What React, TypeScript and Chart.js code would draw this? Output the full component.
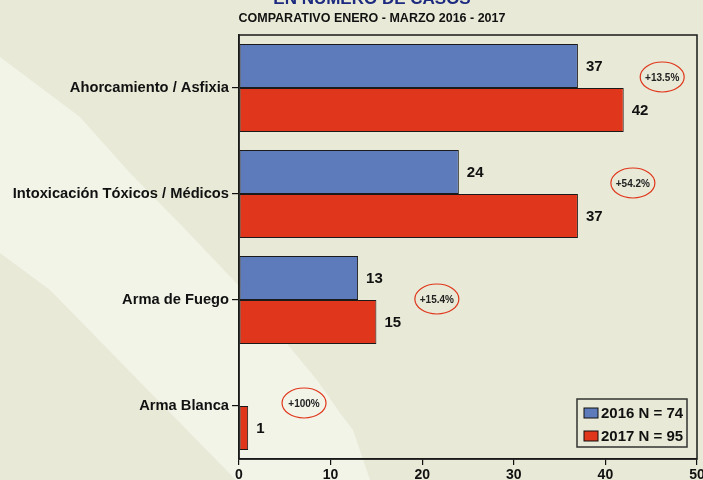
import React, { useEffect, useRef } from "react";
import { Chart, registerables } from "chart.js";

Chart.register(...registerables);

const categories = [
  "Ahorcamiento / Asfixia",
  "Intoxicación Tóxicos / Médicos",
  "Arma de Fuego",
  "Arma Blanca",
];
const values2016 = [37, 24, 13, 0];
const values2017 = [42, 37, 15, 1];
const legendLabels = ["2016 N = 74", "2017 N = 95"];
const changeLabels = ["+13.5%", "+54.2%", "+15.4%", "+100%"];
const xTicks = [0, 10, 20, 30, 40, 50];
const titleText = "EN NÚMERO DE CASOS";
const subtitleText = "COMPARATIVO ENERO - MARZO 2016 - 2017";

const BLUE = "#5d7bba";
const RED = "#e0361b";
const FONT = "'Liberation Sans', Arial, sans-serif";

// ellipse placement (value along x axis, pixel offset from category centre)
const changePlacement = [
  { x: 46.2, dy: -11 },
  { x: 43.0, dy: -11 },
  { x: 21.6, dy: -1 },
  { x: 7.1, dy: -3 },
];

const backgroundPlugin = {
  id: "bgPlugin",
  beforeDraw(chart: any) {
    const ctx = chart.ctx;
    const w = chart.width;
    const h = chart.height;
    ctx.save();
    ctx.fillStyle = "#e8e9d6";
    ctx.fillRect(0, 0, w, h);
    const upper = [
      [0, 57], [80, 117], [130, 173], [183, 227], [240, 287],
      [317, 380], [340, 413], [353, 430], [370, 480],
    ];
    const lower = [[236, 480], [233, 477], [140, 382], [50, 290], [0, 253]];
    ctx.beginPath();
    upper.forEach((p, i) => (i === 0 ? ctx.moveTo(p[0], p[1]) : ctx.lineTo(p[0], p[1])));
    lower.forEach((p) => ctx.lineTo(p[0], p[1]));
    ctx.closePath();
    ctx.fillStyle = "#f3f4e8";
    ctx.fill();

    // titles
    ctx.textAlign = "center";
    ctx.textBaseline = "alphabetic";
    ctx.fillStyle = "#1c2a80";
    ctx.font = `bold 17px ${FONT}`;
    ctx.fillText(titleText, 372, 4);
    ctx.fillStyle = "#111";
    ctx.font = `bold 12.5px ${FONT}`;
    ctx.fillText(subtitleText, 372, 22);
    ctx.restore();
  },
};

const overlayPlugin = {
  id: "overlayPlugin",
  afterDatasetsDraw(chart: any) {
    const ctx = chart.ctx;
    const area = chart.chartArea;
    ctx.save();
    // value labels
    ctx.font = `bold 15px ${FONT}`;
    ctx.fillStyle = "#111";
    ctx.textAlign = "left";
    ctx.textBaseline = "middle";
    chart.data.datasets.forEach((ds: any, di: number) => {
      const meta = chart.getDatasetMeta(di);
      meta.data.forEach((el: any, i: number) => {
        const v = ds.data[i];
        if (!v) return;
        ctx.fillText(String(v), el.x + 8, el.y + 1);
      });
    });

    // change ellipses
    const xs = chart.scales.x;
    const ys = chart.scales.y;
    changeLabels.forEach((t, i) => {
      const cx = xs.getPixelForValue(changePlacement[i].x);
      const cy = ys.getPixelForValue(i) + changePlacement[i].dy;
      ctx.beginPath();
      ctx.ellipse(cx, cy, 22, 15, 0, 0, Math.PI * 2);
      ctx.strokeStyle = RED;
      ctx.lineWidth = 1.2;
      ctx.stroke();
      ctx.font = `bold 10px ${FONT}`;
      ctx.fillStyle = "#222";
      ctx.textAlign = "center";
      ctx.textBaseline = "middle";
      ctx.fillText(t, cx, cy + 1);
    });

    // plot frame
    ctx.strokeStyle = "#1a1a1a";
    ctx.lineWidth = 1.5;
    ctx.strokeRect(area.left, area.top, area.right - area.left, area.bottom - area.top);

    // legend
    const bw = 110;
    const bh = 48;
    const bx = area.right - 10 - bw;
    const by = area.bottom - 12 - bh;
    ctx.lineWidth = 1.5;
    ctx.strokeStyle = "#333";
    ctx.strokeRect(bx, by, bw, bh);
    const colors = [BLUE, RED];
    legendLabels.forEach((lab, i) => {
      const cy = by + 14 + i * 23;
      ctx.fillStyle = colors[i];
      ctx.fillRect(bx + 7, cy - 5, 14, 10);
      ctx.lineWidth = 1;
      ctx.strokeStyle = "#111";
      ctx.strokeRect(bx + 7, cy - 5, 14, 10);
      ctx.fillStyle = "#111";
      ctx.font = `bold 15px ${FONT}`;
      ctx.textAlign = "left";
      ctx.textBaseline = "middle";
      ctx.fillText(lab, bx + 24, cy + 1);
    });
    ctx.restore();
  },
};

export default function App() {
  const ref = useRef<HTMLCanvasElement | null>(null);
  useEffect(() => {
    if (!ref.current) return;
    const chart = new Chart(ref.current, {
      type: "bar",
      data: {
        labels: categories,
        datasets: [
          {
            label: legendLabels[0],
            data: values2016,
            backgroundColor: BLUE,
            borderColor: "#1a1a1a",
            borderWidth: 1,
            borderSkipped: false,
            categoryPercentage: 0.83,
            barPercentage: 1.0,
          },
          {
            label: legendLabels[1],
            data: values2017,
            backgroundColor: RED,
            borderColor: "#1a1a1a",
            borderWidth: 1,
            borderSkipped: false,
            categoryPercentage: 0.83,
            barPercentage: 1.0,
          },
        ],
      },
      options: {
        indexAxis: "y",
        responsive: false,
        animation: false,
        layout: { padding: { top: 35, right: 6, left: 0, bottom: 0 } },
        plugins: {
          legend: { display: false },
          title: { display: false },
          tooltip: { enabled: false },
        },
        scales: {
          x: {
            min: xTicks[0],
            max: xTicks[xTicks.length - 1],
            afterBuildTicks: (s: any) => {
              s.ticks = xTicks.map((v) => ({ value: v }));
            },
            afterFit: (s: any) => {
              s.height = 21;
              s.paddingLeft = 0;
              s.paddingRight = 0;
            },
            ticks: {
              color: "#111",
              font: { family: FONT, size: 14, weight: "bold" },
              padding: 2,
              maxRotation: 0,
            },
            grid: {
              drawOnChartArea: false,
              drawTicks: true,
              tickLength: 6,
              color: "#111",
              lineWidth: 1.2,
            },
            border: { display: true, color: "#1a1a1a", width: 1.5 },
          },
          y: {
            afterFit: (s: any) => {
              s.width = 239;
              s.paddingTop = 0;
              s.paddingBottom = 0;
            },
            ticks: {
              color: "#111",
              font: { family: FONT, size: 14.7, weight: "bold" },
              padding: 3,
            },
            grid: {
              offset: false,
              drawOnChartArea: false,
              drawTicks: true,
              tickLength: 7,
              color: "#111",
              lineWidth: 1.2,
            },
            border: { display: true, color: "#1a1a1a", width: 1.5 },
          },
        },
      },
      plugins: [backgroundPlugin, overlayPlugin],
    } as any);
    return () => chart.destroy();
  }, []);

  return (
    <div style={{ position: "absolute", left: 0, top: 0, width: 703, height: 480 }}>
      <canvas ref={ref} width={703} height={480} />
    </div>
  );
}
